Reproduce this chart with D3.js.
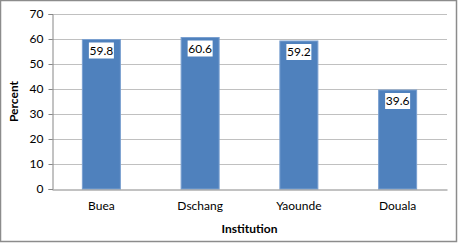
<!DOCTYPE html>
<html>
<head>
<meta charset="utf-8">
<script src="https://cdn.jsdelivr.net/npm/d3@7"></script>
<style>
  body { margin: 0; background: #fff; }
  text { font-family: Lato, "Open Sans", sans-serif; fill: #000; }
</style>
</head>
<body>
<div id="chart"></div>
<script>
let institutions = ["Buea", "Dschang", "Yaounde", "Douala"];
let percents = [59.8, 60.6, 59.2, 39.6];
let yTicks = [0, 10, 20, 30, 40, 50, 60, 70];

let width = 458, height = 243;
let margin = {left: 52, right: 11, top: 14, bottom: 54};
let fontSize = "12px";

let svg = d3.select("#chart").append("svg")
  .attr("width", width)
  .attr("height", height);

// outer frame
svg.append("rect")
  .attr("x", 0.5).attr("y", 0.5)
  .attr("width", width - 2).attr("height", height - 2)
  .style("fill", "white")
  .style("stroke", "#8c8c8c")
  .style("stroke-width", 1.5);

let x = d3.scaleBand()
  .domain(institutions)
  .range([margin.left, width - margin.right])
  .paddingInner(0.615)
  .paddingOuter(0.3075);

let y = d3.scaleLinear()
  .domain([0, 70])
  .range([height - margin.bottom, margin.top]);

// gridlines
svg.append("g")
  .selectAll("line")
  .data(yTicks.slice(1))
  .enter()
  .append("line")
  .attr("x1", margin.left)
  .attr("x2", width - margin.right)
  .attr("y1", d => y(d) + 0.5)
  .attr("y2", d => y(d) + 0.5)
  .style("stroke", "#c0c0c0")
  .style("stroke-width", 1.2);

// y axis
let yAxis = svg.append("g")
  .attr("transform", `translate(${margin.left + 0.5},0)`)
  .call(d3.axisLeft(y).tickValues(yTicks).tickSize(4).tickPadding(5));
yAxis.select(".domain").style("stroke", "#868686");
yAxis.selectAll(".tick line").style("stroke", "#868686");
yAxis.selectAll("text").style("font-size", fontSize).style("fill", "#000");

// bars
svg.append("g")
  .selectAll("rect")
  .data(percents)
  .enter()
  .append("rect")
  .attr("x", (d, i) => x(institutions[i]))
  .attr("y", d => y(d))
  .attr("width", x.bandwidth())
  .attr("height", d => y(0) - y(d))
  .style("fill", "#4f81bd")
  .style("stroke", "#7aa0d0")
  .style("stroke-width", 1);

// x axis
let xAxis = svg.append("g")
  .attr("transform", `translate(0,${y(0) + 0.5})`)
  .call(d3.axisBottom(x).tickSize(0).tickPadding(12));
xAxis.select(".domain").style("stroke", "#868686");
xAxis.selectAll("text").style("font-size", fontSize).style("fill", "#000");

// value labels
let labels = svg.append("g")
  .selectAll("g")
  .data(percents)
  .enter()
  .append("g")
  .attr("transform", (d, i) => `translate(${x(institutions[i]) + x.bandwidth() / 2},${y(d) + 3})`);

labels.append("rect")
  .attr("x", -12.5)
  .attr("y", 0)
  .attr("width", 25)
  .attr("height", 16)
  .style("fill", "white");

labels.append("text")
  .attr("y", 12)
  .attr("text-anchor", "middle")
  .style("font-size", fontSize)
  .text(d => d.toFixed(1));

// axis titles
svg.append("text")
  .attr("transform", `translate(18,${(y(0) + y(70)) / 2}) rotate(-90)`)
  .attr("text-anchor", "middle")
  .style("font-size", fontSize)
  .style("font-weight", "bold")
  .text("Percent");

svg.append("text")
  .attr("x", (x.range()[0] + x.range()[1]) / 2)
  .attr("y", 233)
  .attr("text-anchor", "middle")
  .style("font-size", fontSize)
  .style("font-weight", "bold")
  .text("Institution");
</script>
</body>
</html>
